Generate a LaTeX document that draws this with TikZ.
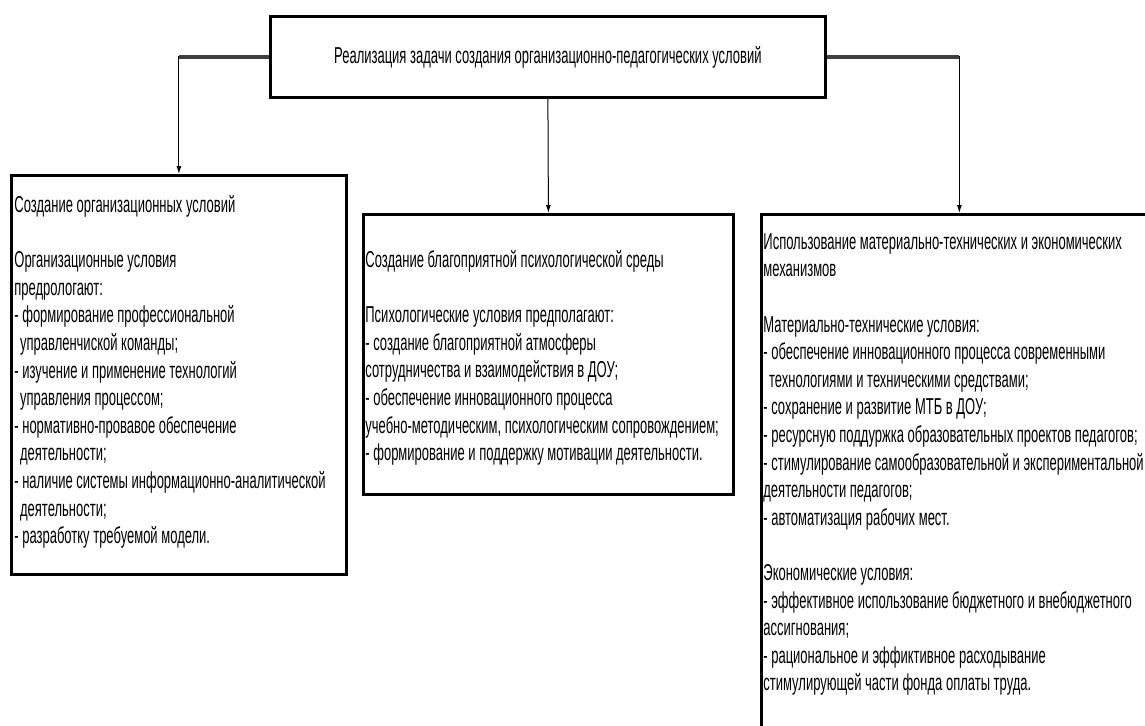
\documentclass[tikz,border=0pt]{standalone}
\usepackage{fontspec}
\setmainfont{Liberation Sans}[FakeStretch=0.565]
\usetikzlibrary{positioning,arrows.meta}

\begin{document}
\begin{tikzpicture}[x=0.5pt, y=-0.5pt,
    frame/.style={draw, line width=1.4pt, anchor=north west, inner sep=0pt},
    txt/.style={anchor=north west, align=left, inner sep=0pt, font=\fontsize{11.5pt}{13.8pt}\selectfont},
    conn/.style={line width=0.5pt, -{Latex[length=4pt, width=2.5pt]}},
    bar/.style={line width=2pt, black!75}
]
\useasboundingbox (0,0) rectangle (1145,725);

% Top box
\node[frame, minimum width=277.5pt, minimum height=40.5pt] (title) at (269,15) {};
\node[txt, anchor=center] (titletxt) at (title.center) {Реализация задачи создания организационно-педагогических условий};

% Left box
\node[frame, minimum width=167.5pt, minimum height=199.5pt] (org) at (10,174) {};
\node[txt] (orgtxt) at (14,195) {Создание организационных условий\\[13.8pt]
Организационные условия\\
предрологают:\\
- формирование профессиональной\\
\hspace{0.25em}управленчиской команды;\\
- изучение и применение технологий\\
\hspace{0.25em}управления процессом;\\
- нормативно-провавое обеспечение\\
\hspace{0.25em}деятельности;\\
- наличие системы информационно-аналитической\\
\hspace{0.25em}деятельности;\\
- разработку требуемой модели.};

% Middle box
\node[frame, minimum width=185pt, minimum height=140pt] (psy) at (362,213) {};
\node[txt] (psytxt) at (365,250) {Создание благоприятной психологической среды\\[13.8pt]
Психологические условия предполагают:\\
- создание благоприятной атмосферы\\
сотрудничества и взаимодействия в ДОУ;\\
- обеспечение инновационного процесса\\
учебно-методическим, психологическим сопровождением;\\
- формирование и поддержку мотивации деятельности.};

% Right box
\node[frame, minimum width=198pt, minimum height=263.5pt] (mat) at (760,213) {};
\node[txt] (mattxt) at (763,233) {Использование материально-технических и экономических\\
механизмов\\[13.8pt]
Материально-технические условия:\\
- обеспечение инновационного процесса современными\\
\hspace{0.25em}технологиями и техническими средствами;\\
- сохранение и развитие МТБ в ДОУ;\\
- ресурсную поддуржка образовательных проектов педагогов;\\
- стимулирование самообразовательной и экспериментальной\\
деятельности педагогов;\\
- автоматизация рабочих мест.\\[13.8pt]
Экономические условия:\\
- эффективное использование бюджетного и внебюджетного\\
ассигнования;\\
- рациональное и эффиктивное расходывание\\
стимулирующей части фонда оплаты труда.};

% Connectors
\draw[conn] (title.west) -| (org.north);
\draw[bar] (title.west) -- (title.west -| org.north);
\draw[conn] (title.south) -- (psy.north);
\draw[conn] (title.east) -| (mat.north);
\draw[bar] (title.east) -- (title.east -| mat.north);
\end{tikzpicture}
\end{document}
